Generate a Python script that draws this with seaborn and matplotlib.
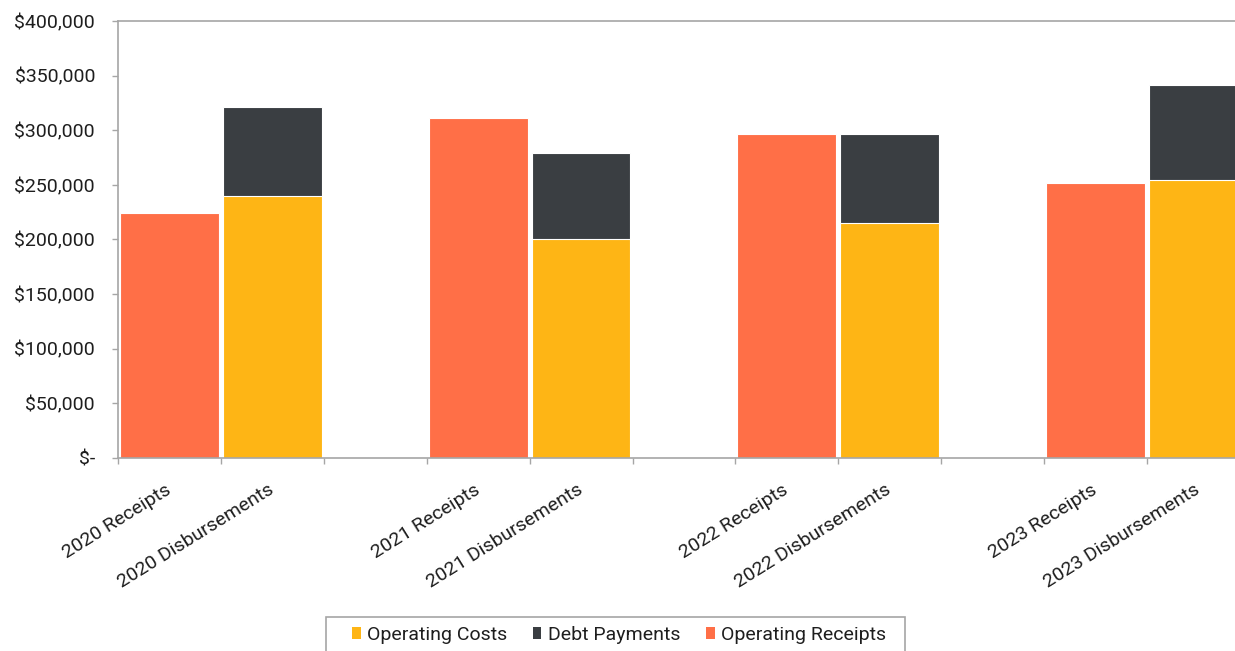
import matplotlib
matplotlib.use("Agg")
import matplotlib.pyplot as plt
import matplotlib.ticker as mticker
from matplotlib.patches import Patch, Rectangle
import seaborn as sns
import pandas as pd

# ---- data ----
years = ["2020", "2021", "2022", "2023"]
operating_receipts = [224000, 311500, 297000, 251500]
operating_costs = [240000, 200500, 215000, 254500]
debt_payments = [81500, 79000, 82000, 86500]
series_names = ["Operating Costs", "Debt Payments", "Operating Receipts"]
y_ticks = [0, 50000, 100000, 150000, 200000, 250000, 300000, 350000, 400000]

c_receipts = "#FF6F47"
c_costs = "#FEB515"
c_debt = "#3A3E42"
grey = "#A6A6A6"
txt = "#1E1E1E"

# slots: receipts, disbursements, blank gap
slots, slot_labels = [], []
for i, y in enumerate(years):
    slots += [f"{y} Receipts", f"{y} Disbursements"]
    slot_labels += [f"{y} Receipts", f"{y} Disbursements"]
    if i < len(years) - 1:
        slots.append(f"gap {y}")
        slot_labels.append("")

rec_df = pd.DataFrame({"slot": [f"{y} Receipts" for y in years],
                       "value": operating_receipts})
dis_df = pd.DataFrame({"slot": [f"{y} Disbursements" for y in years],
                       "costs": operating_costs,
                       "debt": debt_payments})
dis_df["total"] = dis_df["costs"] + dis_df["debt"]

sns.set_style("white")
plt.rcParams["font.family"] = ["Roboto", "DejaVu Sans"]
plt.rcParams["font.size"] = 14

fig = plt.figure(figsize=(12.35, 6.51), dpi=100)
W, H = 1235, 651
left_px, right_px, top_px, bot_px = 118, 118 + 102.9 * 11, 21, 458
ax = fig.add_axes([left_px / W, (H - bot_px) / H,
                   (right_px - left_px) / W, (bot_px - top_px) / H])

bw = 0.96
common = dict(order=slots, width=bw, saturation=1, errorbar=None,
              edgecolor="white", linewidth=0.8, ax=ax)
sns.barplot(data=rec_df, x="slot", y="value", color=c_receipts, **common)
sns.barplot(data=dis_df, x="slot", y="total", color=c_debt, **common)
sns.barplot(data=dis_df, x="slot", y="costs", color=c_costs, **common)

ax.set_xlim(-0.5, len(slots) - 0.5)
ax.set_ylim(0, 400000)
ax.set_xlabel("")
ax.set_ylabel("")

ax.set_yticks(y_ticks)
ax.yaxis.set_major_formatter(mticker.FuncFormatter(
    lambda v, p: "$-" if v == 0 else f"${v:,.0f}"))
ax.tick_params(axis="y", left=True, length=4.5, width=1, color=grey,
               pad=12, labelsize=14, labelcolor=txt)

ax.set_xticks(range(len(slots)))
ax.set_xticklabels(slot_labels, rotation=32, ha="right",
                   rotation_mode="anchor", va="center")
ax.tick_params(axis="x", which="major", length=0, pad=22, labelsize=14,
               labelcolor=txt)
ax.set_xticks([i - 0.5 for i in range(len(slots) + 1)], minor=True)
ax.tick_params(axis="x", which="minor", bottom=True, length=4.5, width=1,
               color=grey)

for s in ["left", "bottom", "top"]:
    ax.spines[s].set_visible(True)
    ax.spines[s].set_color(grey)
    ax.spines[s].set_linewidth(1.2)
ax.spines["right"].set_visible(False)

handles = [Patch(facecolor=c, edgecolor="none") for c in (c_costs, c_debt, c_receipts)]
leg = fig.legend(handles, series_names, loc="center",
                 bbox_to_anchor=(619 / W, (H - 635) / H), ncol=3,
                 frameon=False, prop={"family": ["Roboto"], "size": 14},
                 handlelength=0.46, handleheight=0.62,
                 handletextpad=0.34, columnspacing=1.29, borderpad=0.0,
                 borderaxespad=0, labelcolor=txt)

# legend box (Excel-style, with wider side padding)
fig.canvas.draw()
bb = leg.get_window_extent().transformed(fig.transFigure.inverted())
pad_l, pad_r, pad_t = 26 / W, 19 / W, 9 / H
box = Rectangle((bb.x0 - pad_l, bb.y0 - 20 / H),
                bb.width + pad_l + pad_r, bb.height + pad_t + 20 / H,
                transform=fig.transFigure, facecolor="white",
                edgecolor=grey, linewidth=1.2, zorder=0)
fig.add_artist(box)

fig.savefig("out.png", dpi=100)
